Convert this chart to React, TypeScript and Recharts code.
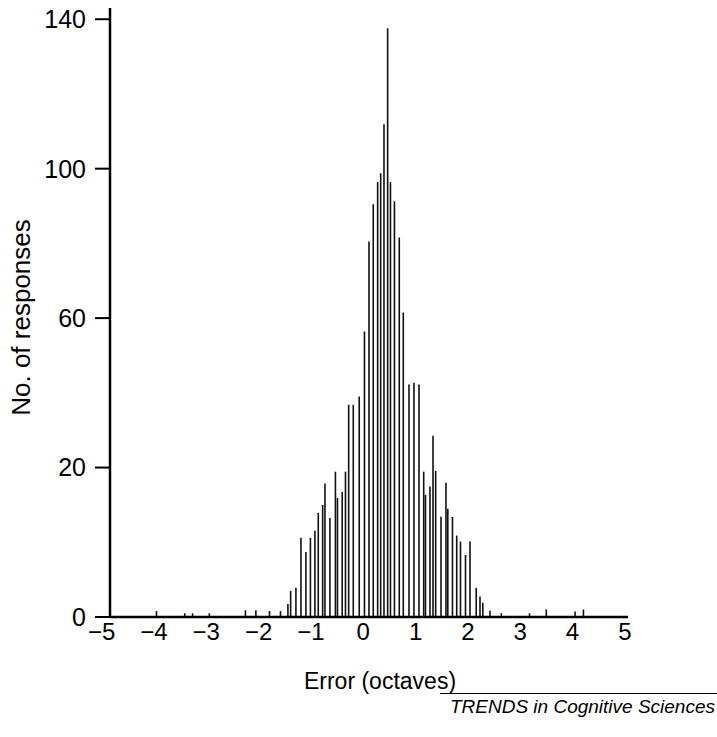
import { BarChart, Bar, XAxis, YAxis, Label } from 'recharts';

// error in octaves
const errors = [
  -3.95, -3.41, -3.26, -2.94, -2.25, -2.05, -1.79, -1.58,
  -1.438, -1.386, -1.285, -1.189, -1.094, -1.008, -0.922, -0.858, -0.774, -0.73,
  -0.635, -0.53, -0.491, -0.4, -0.338, -0.277, -0.189, -0.075, 0.025, 0.111,
  0.193, 0.277, 0.335, 0.398, 0.468, 0.522, 0.598, 0.69, 0.767, 0.876, 0.971,
  1.067, 1.157, 1.191, 1.277, 1.335, 1.386, 1.488, 1.583, 1.618, 1.707, 1.788,
  1.86, 1.956, 2.042, 2.161, 2.233, 2.287, 2.424,
  2.64, 3.18, 3.5, 4.05, 4.21,
];

// bar heights (in units of the drawn axis)
const counts = [
  1.6, 1, 1, 1, 1.8, 1.8, 1.6, 1.6,
  3.5, 7, 7.8, 21.2, 17.4, 21.2, 23.1, 27.9, 30, 35.7,
  26.5, 38.9, 31.9, 33.5, 38.9, 56.8, 56.8, 59, 76.4, 100.5,
  110.5, 116.4, 118.8, 131.9, 157.6, 116.4, 111.3, 101.6, 81.5, 62.2, 62.7,
  62.2, 38.9, 32.7, 34.9, 48.5, 39.1, 26.8, 35.9, 29, 26.8, 21.8,
  20.2, 16.6, 20.2, 7.8, 5.5, 3.8, 1.7,
  1, 1, 2, 1.5, 2,
];

const xTicks = [-5, -4, -3, -2, -1, 0, 1, 2, 3, 4, 5];
const yTicks = [0, 40, 80, 120, 160];
const yTickLabels = ['0', '20', '60', '100', '140'];

const data = errors.map((e, i) => ({ error: e, count: counts[i] }));

const font = '"Liberation Sans", Arial, sans-serif';

export default function App() {
  return (
    <div style={{ position: 'absolute', left: 0, top: 0, width: 717, height: 737, background: '#fff' }}>
      <BarChart
        width={717}
        height={737}
        data={data}
        margin={{ top: 8, right: 89, bottom: 0, left: 0 }}
      >
        <XAxis
          dataKey="error"
          type="number"
          domain={[-4.84, 5.06]}
          ticks={xTicks}
          interval={0}
          allowDataOverflow
          height={120}
          tickLine={false}
          tickSize={3}
          tickMargin={3}
          axisLine={{ stroke: '#000', strokeWidth: 2.5 }}
          tick={{ fill: '#000', fontSize: 24, fontFamily: font }}
          tickFormatter={(v: number) => (v < 0 ? '\u2212' + Math.abs(v) : String(v))}
        >
          <Label
            value="Error (octaves)"
            position="insideTop"
            offset={56}
            dx={11}
            style={{ fill: '#000', fontSize: 23, fontFamily: font }}
          />
        </XAxis>
        <YAxis
          type="number"
          domain={[0, 163]}
          ticks={yTicks}
          interval={0}
          width={110}
          tickSize={15}
          tickMargin={9}
          axisLine={{ stroke: '#000', strokeWidth: 2.5 }}
          tickLine={{ stroke: '#000', strokeWidth: 2 }}
          tick={{ fill: '#000', fontSize: 25, fontFamily: font }}
          tickFormatter={(v: number) => yTickLabels[yTicks.indexOf(v)]}
        >
          <Label
            value="No. of responses"
            angle={-90}
            position="insideLeft"
            offset={21}
            dy={5}
            style={{ fill: '#000', fontSize: 26, fontFamily: font, textAnchor: 'middle' }}
          />
        </YAxis>
        <Bar dataKey="count" fill="#111" barSize={3} isAnimationActive={false} />
      </BarChart>
      <div
        style={{
          position: 'absolute',
          left: 440,
          top: 693,
          width: 277,
          borderTop: '1px solid #000',
          textAlign: 'right',
          fontFamily: font,
          fontStyle: 'italic',
          fontSize: 19,
          whiteSpace: 'nowrap',
          paddingTop: 2,
          paddingRight: 2,
          boxSizing: 'border-box',
        }}
      >
        TRENDS in Cognitive Sciences
      </div>
    </div>
  );
}
